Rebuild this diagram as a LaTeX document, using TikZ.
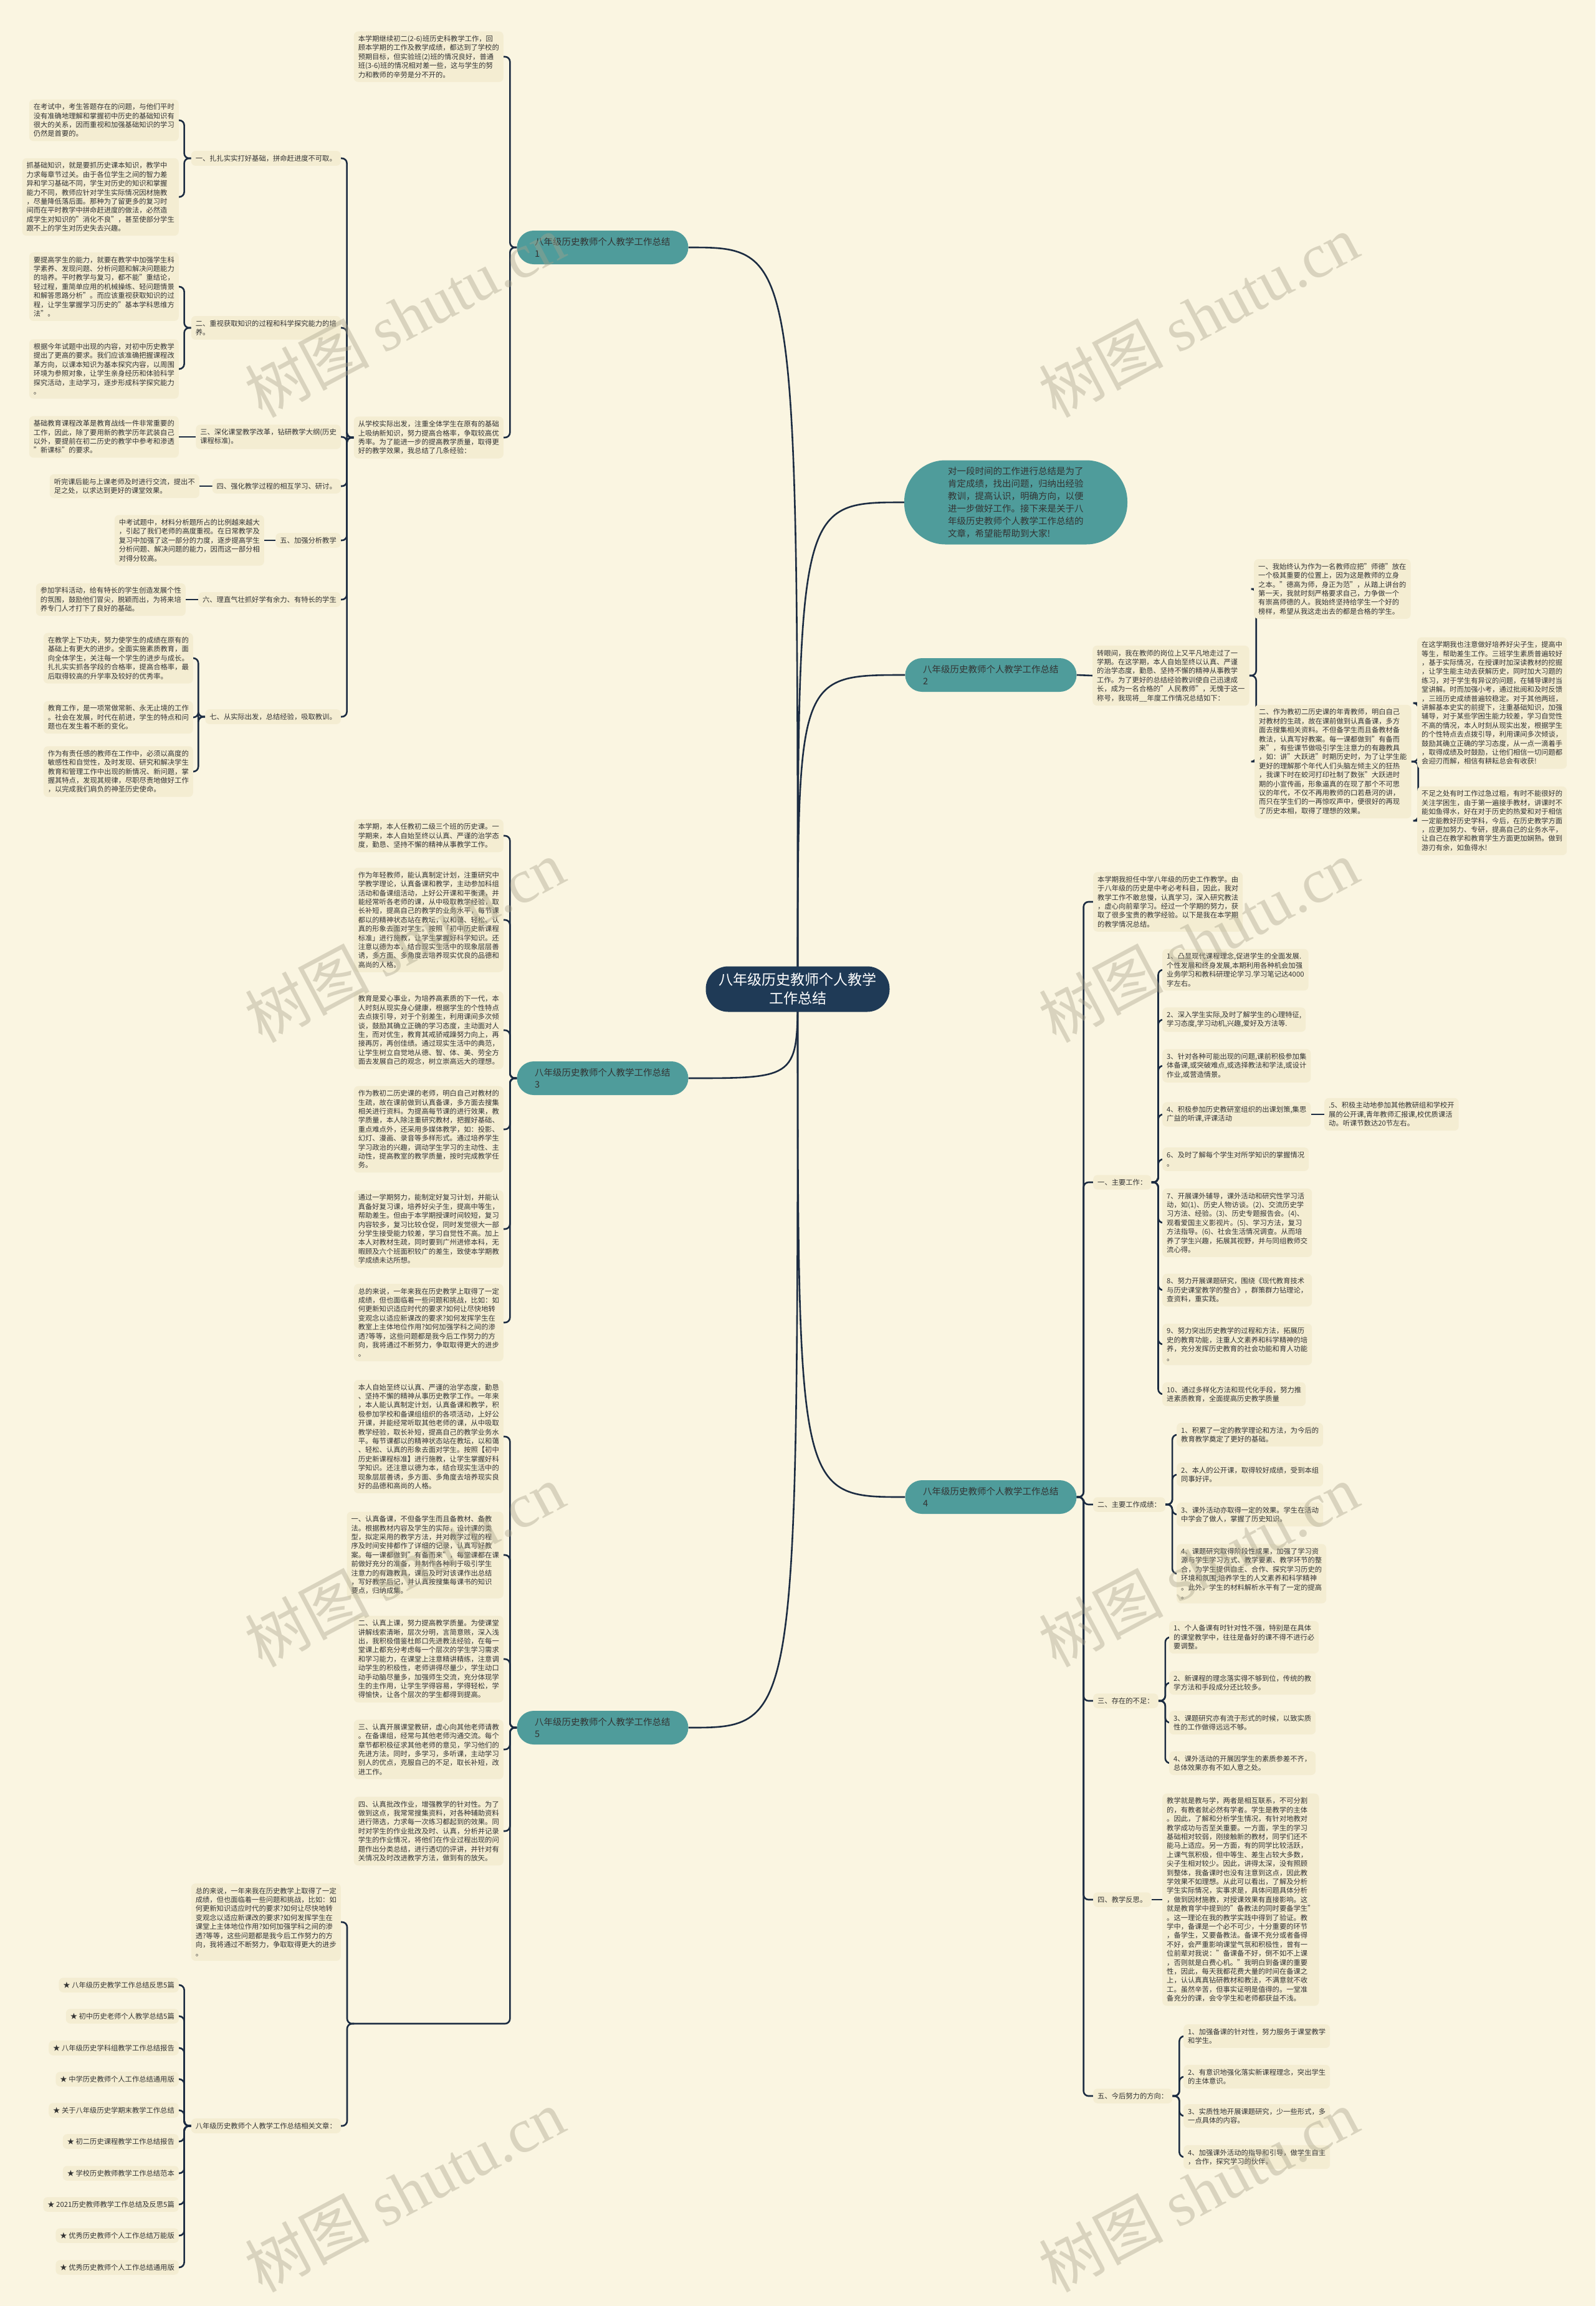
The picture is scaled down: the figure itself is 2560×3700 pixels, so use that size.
\documentclass[tikz,border=0pt]{standalone}
\usepackage{fontspec}
\setmainfont{Noto Sans CJK SC}
\newfontfamily\wmlatin{Liberation Serif}
\usetikzlibrary{backgrounds}

\definecolor{paper}{HTML}{FAF5E1}
\definecolor{boxfill}{HTML}{F4EDD2}
\definecolor{tealfill}{HTML}{4F9C9B}
\definecolor{linecol}{HTML}{1C2C42}
\definecolor{rootfill}{HTML}{1F3A56}
\definecolor{inkcol}{HTML}{333333}
\definecolor{wmcol}{HTML}{A8A28A}

\newcommand\leaffont{\fontsize{11.3pt}{14.4pt}\selectfont}
\newcommand\branchfont{\fontsize{14.5pt}{18.5pt}\selectfont}
\newcommand\bubblefont{\fontsize{14.5pt}{20pt}\selectfont}
\newcommand\rootfont{\fontsize{23pt}{30pt}\selectfont}
\newcommand\wmfont{\fontsize{100pt}{100pt}\selectfont}

\tikzset{
  leaf/.style={fill=boxfill, rounded corners=7pt, inner xsep=7pt, inner ysep=6.5pt, align=left, font=\leaffont, text=inkcol},
  branch/.style={fill=tealfill, rounded corners=27pt, minimum width=275pt, minimum height=54pt, text width=218pt, align=left, font=\branchfont, text=inkcol},
  link/.style={draw=linecol, line width=2.6pt, rounded corners=8pt},
  lbranch/.style={to path={-- ++(-11,0) |- (\tikztotarget)}},
  rbranch/.style={to path={-- ++(11,0) |- (\tikztotarget)}},
  rootlink/.style={draw=linecol, line width=2.6pt},
  wm/.style={rotate=28, text=wmcol, text opacity=0.4, font=\wmfont},
}

\begin{document}
\begin{tikzpicture}[x=1pt,y=-1pt]
\begin{scope}[on background layer]
\fill[paper] (0,0) rectangle (2560,3700);
\end{scope}
\useasboundingbox (0,0) rectangle (2560,3700);

% centre and main branches
\node[fill=rootfill, text=white, rounded corners=36pt, minimum width=295pt, minimum height=73pt, align=center, font=\rootfont] (root) at (1280,1587) {八年级历史教师个人教学\\工作总结};
\node[fill=tealfill, rounded corners=66pt, minimum width=358pt, minimum height=135pt, text width=218pt, align=left, font=\bubblefont, text=inkcol] (intro) at (1630,806) {对一段时间的工作进行总结是为了\\肯定成绩，找出问题，归纳出经验\\教训，提高认识，明确方向，以便\\进一步做好工作。接下来是关于八\\年级历史教师个人教学工作总结的\\文章，希望能帮助到大家!};
\node[branch] (br1) at (967,397) {八年级历史教师个人教学工作总结\\1};
\node[branch] (br2) at (1590,1083) {八年级历史教师个人教学工作总结\\2};
\node[branch] (br3) at (967,1730) {八年级历史教师个人教学工作总结\\3};
\node[branch] (br4) at (1590,2402) {八年级历史教师个人教学工作总结\\4};
\node[branch] (br5) at (967,2772) {八年级历史教师个人教学工作总结\\5};

% branch 1
\node[leaf,anchor=east] (c1) at (808,91) {本学期继续初二(2-6)班历史科教学工作，回\\顾本学期的工作及教学成绩，都达到了学校的\\预期目标，但实验班(2)班的情况良好，普通\\班(3-6)班的情况相对差一些，这与学生的努\\力和教师的辛劳是分不开的。};
\node[leaf,anchor=east] (cs) at (808,702) {从学校实际出发，注重全体学生在原有的基础\\上吸纳新知识，努力提高合格率，争取较高优\\秀率。为了能进一步的提高教学质量，取得更\\好的教学效果，我总结了几条经验：};
\node[leaf,anchor=east] (s1) at (547,254) {一、扎扎实实打好基础，拼命赶进度不可取。};
\node[leaf,anchor=east] (s2) at (547,526) {二、重视获取知识的过程和科学探究能力的培\\养。};
\node[leaf,anchor=east] (s3) at (547,701) {三、深化课堂教学改革，钻研教学大纲(历史\\课程标准)。};
\node[leaf,anchor=east] (s4) at (547,780) {四、强化教学过程的相互学习、研讨。};
\node[leaf,anchor=east] (s5) at (547,867) {五、加强分析教学};
\node[leaf,anchor=east] (s6) at (547,962) {六、理直气壮抓好学有余力、有特长的学生};
\node[leaf,anchor=east] (s7) at (547,1150) {七、从实际出发，总结经验，吸取教训。};
\node[leaf,anchor=east] (t1) at (287,193) {在考试中，考生答题存在的问题，与他们平时\\没有准确地理解和掌握初中历史的基础知识有\\很大的关系，因而重视和加强基础知识的学习\\仍然是首要的。};
\node[leaf,anchor=east] (t2) at (287,316) {抓基础知识，就是要抓历史课本知识，教学中\\力求每章节过关。由于各位学生之间的智力差\\异和学习基础不同，学生对历史的知识和掌握\\能力不同，教师应针对学生实际情况因材施教\\，尽量降低落后面。那种为了留更多的复习时\\间而在平时教学中拼命赶进度的做法，必然造\\成学生对知识的"消化不良"，甚至使部分学生\\跟不上的学生对历史失去兴趣。};
\node[leaf,anchor=east] (t3) at (287,460) {要提高学生的能力，就要在教学中加强学生科\\学素养、发现问题、分析问题和解决问题能力\\的培养。平时教学与复习，都不能"重结论，\\轻过程，重简单应用的机械操练、轻问题情景\\和解答思路分析"。而应该重视获取知识的过\\程，让学生掌握学习历史的"基本学科思维方\\法"。};
\node[leaf,anchor=east] (t4) at (287,592) {根据今年试题中出现的内容，对初中历史教学\\提出了更高的要求。我们应该准确把握课程改\\革方向，以课本知识为基本探究内容，以周围\\环境为参照对象，让学生亲身经历和体验科学\\探究活动，主动学习，逐步形成科学探究能力\\。};
\node[leaf,anchor=east] (t5) at (287,701) {基础教育课程改革是教育战线一件非常重要的\\工作，因此，除了要用新的教学历年武装自己\\以外，要提前在初二历史的教学中参考和渗透\\"新课标"的要求。};
\node[leaf,anchor=east] (t6) at (320,780) {听完课后能与上课老师及时进行交流，提出不\\足之处，以求达到更好的课堂效果。};
\node[leaf,anchor=east] (t7) at (424,867) {中考试题中，材料分析题所占的比例越来越大\\，引起了我们老师的高度重视。在日常教学及\\复习中加强了这一部分的力度，逐步提高学生\\分析问题、解决问题的能力，因而这一部分相\\对得分较高。};
\node[leaf,anchor=east] (t8) at (298,962) {参加学科活动，给有特长的学生创造发展个性\\的氛围，鼓励他们冒尖，脱颖而出，为将来培\\养专门人才打下了良好的基础。};
\node[leaf,anchor=east] (t9) at (310,1056) {在教学上下功夫，努力使学生的成绩在原有的\\基础上有更大的进步。全面实施素质教育，面\\向全体学生，关注每一个学生的进步与成长。\\扎扎实实抓各学段的合格率，提高合格率，最\\后取得较高的升学率及较好的优秀率。};
\node[leaf,anchor=east] (t10) at (310,1151) {教育工作，是一项常做常新、永无止境的工作\\。社会在发展，时代在前进，学生的特点和问\\题也在发生着不断的变化。};
\node[leaf,anchor=east] (t11) at (310,1238) {作为有责任感的教师在工作中，必须以高度的\\敏感性和自觉性，及时发现、研究和解决学生\\教育和管理工作中出现的新情况、新问题，掌\\握其特点，发现其规律，尽职尽责地做好工作\\，以完成我们肩负的神圣历史使命。};

% branch 2
\node[leaf,anchor=west] (d0) at (1753,1084) {转眼间，我在教师的岗位上又平凡地走过了一\\学期。在这学期，本人自始至终以认真、严谨\\的治学态度，勤恳、坚持不懈的精神从事教学\\工作。为了更好的总结经验教训使自己迅速成\\长，成为一名合格的"人民教师"，无愧于这一\\称号，我现将\_\_年度工作情况总结如下：};
\node[leaf,anchor=west] (d1) at (2012,945) {一、我始终认为作为一名教师应把"师德"放在\\一个极其重要的位置上，因为这是教师的立身\\之本。"德高为师，身正为范"，从踏上讲台的\\第一天，我就时刻严格要求自己，力争做一个\\有崇高师德的人。我始终坚持给学生一个好的\\榜样，希望从我这走出去的都是合格的学生。};
\node[leaf,anchor=west] (d2) at (2013,1222) {二、作为教初二历史课的年青教师，明白自己\\对教材的生疏，故在课前做到认真备课，多方\\面去搜集相关资料。不但备学生而且备教材备\\教法，认真写好教案。每一课都做到"有备而\\来"，有些课节做吸引学生注意力的有趣教具\\，如：讲"大跃进"时期历史时，为了让学生能\\更好的理解那个年代人们头脑左倾主义的狂热\\，我课下时在蛟河打印社制了数张"大跃进时\\期的小宣传画，形象逼真的在现了那个不可思\\议的年代，不仅不再用教师的口若悬河的讲，\\而只在学生们的一再惊叹声中，便很好的再现\\了历史本相，取得了理想的效果。};
\node[leaf,anchor=west] (d3) at (2274,1128) {在这学期我也注意做好培养好尖子生，提高中\\等生，帮助差生工作。三班学生素质普遍较好\\，基于实际情况，在授课时加深读教材的挖掘\\，让学生能主动去获解历史，同时加大习题的\\练习，对于学生有异议的问题，在辅导课时当\\堂讲解。时而加强小考，通过批阅和及时反馈\\，三班历史成绩普遍较稳定。对于其他两班，\\讲解基本史实的前提下，注重基础知识，加强\\辅导，对于某些学困生能力较差，学习自觉性\\不高的情况，本人时刻从现实出发，根据学生\\的个性特点去点拨引导，利用课间多次倾谈，\\鼓励其确立正确的学习态度，从一点一滴着手\\，取得成绩及时鼓励，让他们相信一切问题都\\会迎刃而解，相信有耕耘总会有收获!};
\node[leaf,anchor=west] (d4) at (2274,1317) {不足之处有时工作过急过粗，有时不能很好的\\关注学困生，由于第一遍接手教材，讲课时不\\能如鱼得水，好在对于历史的热爱和对于相信\\一定能教好历史学科，今后，在历史教学方面\\，应更加努力、专研，提高自己的业务水平，\\让自己在教学和教育学生方面更加娴熟。做到\\游刃有余，如鱼得水!};

% branch 3
\node[leaf,anchor=east] (e1) at (808,1341) {本学期，本人任教初二级三个班的历史课。一\\学期来，本人自始至终以认真、严谨的治学态\\度，勤恳、坚持不懈的精神从事教学工作。};
\node[leaf,anchor=east] (e2) at (808,1476) {作为年轻教师，能认真制定计划，注重研究中\\学教学理论，认真备课和教学，主动参加科组\\活动和备课组活动，上好公开课和平衡课，并\\能经常听各老师的课，从中吸取教学经验，取\\长补短，提高自己的教学的业务水平，每节课\\都以的精神状态站在教坛，以和蔼、轻松、认\\真的形象去面对学生。按照「初中历史新课程\\标准」进行施教，让学生掌握好科学知识。还\\注意以德为本，结合现实生活中的现象层层善\\诱，多方面、多角度去培养现实优良的品德和\\高尚的人格。};
\node[leaf,anchor=east] (e3) at (808,1653) {教育是爱心事业，为培养高素质的下一代，本\\人时刻从现实身心健康，根据学生的个性特点\\去点拨引导，对于个别差生，利用课间多次倾\\谈，鼓励其确立正确的学习态度，主动面对人\\生，而对优生，教育其戒骄戒躁努力向上，再\\接再厉，再创佳绩。通过现实生活中的典范，\\让学生树立自觉地从德、智、体、美、劳全方\\面去发展自己的观念，树立崇高远大的理想。};
\node[leaf,anchor=east] (e4) at (808,1812) {作为教初二历史课的老师，明白自己对教材的\\生疏，故在课前做到认真备课，多方面去搜集\\相关进行资料。为提高每节课的进行效果，教\\学质量，本人除注重研究教材，把握好基础、\\重点难点外，还采用多媒体教学，如：投影、\\幻灯、漫画、录音等多样形式。通过培养学生\\学习政治的兴趣，调动学生学习的主动性、主\\动性，提高教室的教学质量，按时完成教学任\\务。};
\node[leaf,anchor=east] (e5) at (808,1972) {通过一学期努力，能制定好复习计划，并能认\\真备好复习课，培养好尖子生，提高中等生，\\帮助差生。但由于本学期授课时间较短，复习\\内容较多，复习比较仓促，同时发觉很大一部\\分学生接受能力较差，学习自觉性不高。加上\\本人对教材生疏，同时要到广州进修本科，无\\暇顾及六个班面积较广的差生，致使本学期教\\学成绩未达所想。};
\node[leaf,anchor=east] (e6) at (808,2122) {总的来说，一年来我在历史教学上取得了一定\\成绩，但也面临着一些问题和挑战，比如：如\\何更新知识适应时代的要求?如何让尽快地转\\变观念以适应新课改的要求?如何发挥学生在\\教室上主体地位作用?如何加强学科之间的渗\\透?等等，这些问题都是我今后工作努力的方\\向，我将通过不断努力，争取取得更大的进步\\。};

% branch 4
\node[leaf,anchor=west] (f0) at (1754,1447) {本学期我担任中学八年级的历史工作教学。由\\于八年级的历史是中考必考科目，因此，我对\\教学工作不敢怠慢，认真学习，深入研究教法\\，虚心向前辈学习。经过一个学期的努力，获\\取了很多宝贵的教学经验。以下是我在本学期\\的教学情况总结。};
\node[leaf,anchor=west] (g1) at (1754,1897) {一、主要工作：};
\node[leaf,anchor=west] (g2) at (1754,2414) {二、主要工作成绩：};
\node[leaf,anchor=west] (g3) at (1754,2729) {三、存在的不足：};
\node[leaf,anchor=west] (g4) at (1754,3048) {四、教学反思。};
\node[leaf,anchor=west] (g5) at (1754,3363) {五、今后努力的方向：};
\node[leaf,anchor=west] (h1) at (1865,1556) {1、凸显现代课程理念,促进学生的全面发展.\\个性发展和终身发展,本期利用各种机会加强\\业务学习和教科研理论学习.学习笔记达4000\\字左右。};
\node[leaf,anchor=west] (h2) at (1865,1636) {2、深入学生实际,及时了解学生的心理特征,\\学习态度,学习动机,兴趣,爱好及方法等.};
\node[leaf,anchor=west] (h3) at (1865,1710) {3、针对各种可能出现的问题,课前积极参加集\\体备课,或突破难点,或选择教法和学法,或设计\\作业,或营造情景。};
\node[leaf,anchor=west] (h4) at (1865,1788) {4、积极参加历史教研室组织的出课划策,集思\\广益的听课,评课活动};
\node[leaf,anchor=west] (h5) at (2125,1788) {.5、积极主动地参加其他教研组和学校开\\展的公开课,青年教师汇报课,校优质课活\\动。听课节数达20节左右。};
\node[leaf,anchor=west] (h6) at (1865,1860) {6、及时了解每个学生对所学知识的掌握情况\\。};
\node[leaf,anchor=west] (h7) at (1865,1962) {7、开展课外辅导，课外活动和研究性学习活\\动，如(1)、历史人物访谈。(2)、交流历史学\\习方法、经验。(3)、历史专题报告会。(4)、\\观看爱国主义影视片。(5)、学习方法，复习\\方法指导。(6)、社会生活情况调查。从而培\\养了学生兴趣，拓展其视野，并与同组教师交\\流心得。};
\node[leaf,anchor=west] (h8) at (1865,2070) {8、努力开展课题研究，围绕《现代教育技术\\与历史课堂教学的整合》，群策群力钻理论，\\查资料，重实践。};
\node[leaf,anchor=west] (h9) at (1865,2157) {9、努力突出历史教学的过程和方法，拓展历\\史的教育功能，注重人文素养和科学精神的培\\养，充分发挥历史教育的社会功能和育人功能\\。};
\node[leaf,anchor=west] (h10) at (1865,2237) {10、通过多样化方法和现代化手段，努力推\\进素质教育，全面提高历史教学质量};
\node[leaf,anchor=west] (k1) at (1888,2302) {1、积累了一定的教学理论和方法，为今后的\\教育教学奠定了更好的基础。};
\node[leaf,anchor=west] (k2) at (1888,2366) {2、本人的公开课，取得较好成绩，受到本组\\同事好评。};
\node[leaf,anchor=west] (k3) at (1888,2430) {3、课外活动亦取得一定的效果。学生在活动\\中学会了做人，掌握了历史知识。};
\node[leaf,anchor=west] (k4) at (1888,2525) {4、课题研究取得阶段性成果，加强了学习资\\源与学生学习方式、教学要素、教学环节的整\\合，为学生提供自主、合作、探究学习历史的\\环境和氛围;培养学生的人文素养和科学精神\\。此外，学生的材料解析水平有了一定的提高\\。};
\node[leaf,anchor=west] (m1) at (1876,2627) {1、个人备课有时针对性不强，特别是在具体\\的课堂教学中，往往是备好的课不得不进行必\\要调整。};
\node[leaf,anchor=west] (m2) at (1876,2700) {2、新课程的理念落实得不够到位，传统的教\\学方法和手段成分还比较多。};
\node[leaf,anchor=west] (m3) at (1876,2764) {3、课题研究亦有流于形式的时候，以致实质\\性的工作做得远远不够。};
\node[leaf,anchor=west] (m4) at (1876,2829) {4、课外活动的开展因学生的素质参差不齐，\\总体效果亦有不如人意之处。};
\node[leaf,anchor=west] (n1) at (1865,3048) {教学就是教与学，两者是相互联系，不可分割\\的，有教者就必然有学者。学生是教学的主体\\。因此，了解和分析学生情况，有针对地教对\\教学成功与否至关重要。一方面，学生的学习\\基础相对较弱，刚接触新的教材，同学们还不\\能马上适应。另一方面，有的同学比较活跃，\\上课气氛积极，但中等生、差生占较大多数，\\尖子生相对较少。因此，讲得太深，没有照顾\\到整体，我备课时也没有注意到这点，因此教\\学效果不如理想。从此可以看出，了解及分析\\学生实际情况，实事求是，具体问题具体分析\\，做到因材施教，对授课效果有直接影响。这\\就是教育学中提到的"备教法的同时要备学生"\\。这一理论在我的教学实践中得到了验证。教\\学中，备课是一个必不可少，十分重要的环节\\，备学生，又要备教法。备课不充分或者备得\\不好，会严重影响课堂气氛和积极性，曾有一\\位前辈对我说："备课备不好，倒不如不上课\\，否则就是白费心机。"我明白到备课的重要\\性，因此，每天我都花费大量的时间在备课之\\上，认认真真钻研教材和教法，不满意就不收\\工。虽然辛苦，但事实证明是值得的。一堂准\\备充分的课，会令学生和老师都获益不浅。};
\node[leaf,anchor=west] (p1) at (1899,3267) {1、加强备课的针对性，努力服务于课堂教学\\和学生。};
\node[leaf,anchor=west] (p2) at (1899,3332) {2、有意识地强化落实新课程理念，突出学生\\的主体意识。};
\node[leaf,anchor=west] (p3) at (1899,3395) {3、实质性地开展课题研究，少一些形式，多\\一点具体的内容。};
\node[leaf,anchor=west] (p4) at (1899,3461) {4、加强课外活动的指导和引导，做学生自主\\，合作，探究学习的伙伴。};

% branch 5
\node[leaf,anchor=east] (q1) at (808,2305) {本人自始至终以认真、严谨的治学态度，勤恳\\、坚持不懈的精神从事历史教学工作。一年来\\，本人能认真制定计划，认真备课和教学，积\\极参加学校和备课组组织的各项活动，上好公\\开课，并能经常听取其他老师的课，从中吸取\\教学经验，取长补短，提高自己的教学业务水\\平。每节课都以的精神状态站在教坛，以和蔼\\、轻松、认真的形象去面对学生。按照【初中\\历史新课程标准】进行施教，让学生掌握好科\\学知识。还注意以德为本，结合现实生活中的\\现象层层善诱，多方面、多角度去培养现实良\\好的品德和高尚的人格。};
\node[leaf,anchor=east] (q2) at (808,2495) {一、认真备课，不但备学生而且备教材、备教\\法。根据教材内容及学生的实际，设计课的类\\型，拟定采用的教学方法，并对教学过程的程\\序及时间安排都作了详细的记录，认真写好教\\案。每一课都做到"有备而来"，每堂课都在课\\前做好充分的准备，并制作各种利于吸引学生\\注意力的有趣教具，课后及时对该课作出总结\\，写好教学后记，并认真按搜集每课书的知识\\要点，归纳成集。};
\node[leaf,anchor=east] (q3) at (808,2662) {二、认真上课，努力提高教学质量。为使课堂\\讲解线索清晰，层次分明，言简意赅，深入浅\\出，我积极借鉴杜郎口先进教法经验，在每一\\堂课上都充分考虑每一个层次的学生学习需求\\和学习能力，在课堂上注意精讲精练，注意调\\动学生的积极性，老师讲得尽量少，学生动口\\动手动脑尽量多，加强师生交流，充分体现学\\生的主作用，让学生学得容易，学得轻松，学\\得愉快，让各个层次的学生都得到提高。};
\node[leaf,anchor=east] (q4) at (808,2807) {三、认真开展课堂教研，虚心向其他老师请教\\。在备课组，经常与其他老师沟通交流。每个\\章节都积极征求其他老师的意见，学习他们的\\先进方法。同时，多学习，多听课，主动学习\\别人的优点，克服自己的不足，取长补短，改\\进工作。};
\node[leaf,anchor=east] (q5) at (808,2938) {四、认真批改作业，增强教学的针对性。为了\\做到这点，我常常搜集资料，对各种辅助资料\\进行筛选，力求每一次练习都起到的效果。同\\时对学生的作业批改及时、认真，分析并记录\\学生的作业情况，将他们在作业过程出现的问\\题作出分类总结，进行透切的评讲，并针对有\\关情况及时改进教学方法，做到有的放矢。};
\coordinate (rel) at (568,3247);
\node[leaf,anchor=east] (r1) at (547,3084) {总的来说，一年来我在历史教学上取得了一定\\成绩，但也面临着一些问题和挑战，比如：如\\何更新知识适应时代的要求?如何让尽快地转\\变观念以适应新课改的要求?如何发挥学生在\\课堂上主体地位作用?如何加强学科之间的渗\\透?等等，这些问题都是我今后工作努力的方\\向，我将通过不断努力，争取取得更大的进步\\。};
\node[leaf,anchor=east] (r2) at (547,3411) {八年级历史教师个人教学工作总结相关文章：};
\node[leaf,anchor=east] (a1) at (287,3185) {★ 八年级历史教学工作总结反思5篇};
\node[leaf,anchor=east] (a2) at (287,3235) {★ 初中历史老师个人教学总结5篇};
\node[leaf,anchor=east] (a3) at (287,3286) {★ 八年级历史学科组教学工作总结报告};
\node[leaf,anchor=east] (a4) at (287,3336) {★ 中学历史教师个人工作总结通用版};
\node[leaf,anchor=east] (a5) at (287,3386) {★ 关于八年级历史学期末教学工作总结};
\node[leaf,anchor=east] (a6) at (287,3436) {★ 初二历史课程教学工作总结报告};
\node[leaf,anchor=east] (a7) at (287,3487) {★ 学校历史教师教学工作总结范本};
\node[leaf,anchor=east] (a8) at (287,3537) {★ 2021历史教师教学工作总结及反思5篇};
\node[leaf,anchor=east] (a9) at (287,3587) {★ 优秀历史教师个人工作总结万能版};
\node[leaf,anchor=east] (a10) at (287,3638) {★ 优秀历史教师个人工作总结通用版};

% connectors
\begin{scope}[on background layer]
\draw[rootlink] (root.center) .. controls (root.center |- br1.east) and (root.center |- br1.east) .. (br1.east);
\draw[rootlink] (root.center) .. controls (root.center |- intro.west) and (root.center |- intro.west) .. (intro.west);
\draw[rootlink] (root.center) .. controls (root.center |- br2.west) and (root.center |- br2.west) .. (br2.west);
\draw[rootlink] (root.center) .. controls (root.center |- br3.east) and (root.center |- br3.east) .. (br3.east);
\draw[rootlink] (root.center) .. controls (root.center |- br4.west) and (root.center |- br4.west) .. (br4.west);
\draw[rootlink] (root.center) .. controls (root.center |- br5.east) and (root.center |- br5.east) .. (br5.east);

\draw[link] (br1.west) to[lbranch] (c1.east);
\draw[link] (br1.west) to[lbranch] (cs.east);
\draw[link] (cs.west) to[lbranch] (s1.east);
\draw[link] (cs.west) to[lbranch] (s2.east);
\draw[link] (cs.west) to[lbranch] (s3.east);
\draw[link] (cs.west) to[lbranch] (s4.east);
\draw[link] (cs.west) to[lbranch] (s5.east);
\draw[link] (cs.west) to[lbranch] (s6.east);
\draw[link] (cs.west) to[lbranch] (s7.east);
\draw[link] (s1.west) to[lbranch] (t1.east);
\draw[link] (s1.west) to[lbranch] (t2.east);
\draw[link] (s2.west) to[lbranch] (t3.east);
\draw[link] (s2.west) to[lbranch] (t4.east);
\draw[link] (s3.west) -- (t5.east);
\draw[link] (s4.west) -- (t6.east);
\draw[link] (s5.west) -- (t7.east);
\draw[link] (s6.west) -- (t8.east);
\draw[link] (s7.west) to[lbranch] (t9.east);
\draw[link] (s7.west) to[lbranch] (t10.east);
\draw[link] (s7.west) to[lbranch] (t11.east);

\draw[link] (br2.east) -- (d0.west);
\draw[link] (d0.east) to[rbranch] (d1.west);
\draw[link] (d0.east) to[rbranch] (d2.west);
\draw[link] (d2.east) to[rbranch] (d3.west);
\draw[link] (d2.east) to[rbranch] (d4.west);

\draw[link] (br3.west) to[lbranch] (e1.east);
\draw[link] (br3.west) to[lbranch] (e2.east);
\draw[link] (br3.west) to[lbranch] (e3.east);
\draw[link] (br3.west) to[lbranch] (e4.east);
\draw[link] (br3.west) to[lbranch] (e5.east);
\draw[link] (br3.west) to[lbranch] (e6.east);

\draw[link] (br4.east) to[rbranch] (f0.west);
\draw[link] (br4.east) to[rbranch] (g1.west);
\draw[link] (br4.east) to[rbranch] (g2.west);
\draw[link] (br4.east) to[rbranch] (g3.west);
\draw[link] (br4.east) to[rbranch] (g4.west);
\draw[link] (br4.east) to[rbranch] (g5.west);
\draw[link] (g1.east) to[rbranch] (h1.west);
\draw[link] (g1.east) to[rbranch] (h2.west);
\draw[link] (g1.east) to[rbranch] (h3.west);
\draw[link] (g1.east) to[rbranch] (h4.west);
\draw[link] (g1.east) to[rbranch] (h6.west);
\draw[link] (g1.east) to[rbranch] (h7.west);
\draw[link] (g1.east) to[rbranch] (h8.west);
\draw[link] (g1.east) to[rbranch] (h9.west);
\draw[link] (g1.east) to[rbranch] (h10.west);
\draw[link] (h4.east) -- (h5.west);
\draw[link] (g2.east) to[rbranch] (k1.west);
\draw[link] (g2.east) to[rbranch] (k2.west);
\draw[link] (g2.east) to[rbranch] (k3.west);
\draw[link] (g2.east) to[rbranch] (k4.west);
\draw[link] (g3.east) to[rbranch] (m1.west);
\draw[link] (g3.east) to[rbranch] (m2.west);
\draw[link] (g3.east) to[rbranch] (m3.west);
\draw[link] (g3.east) to[rbranch] (m4.west);
\draw[link] (g4.east) -- (n1.west);
\draw[link] (g5.east) to[rbranch] (p1.west);
\draw[link] (g5.east) to[rbranch] (p2.west);
\draw[link] (g5.east) to[rbranch] (p3.west);
\draw[link] (g5.east) to[rbranch] (p4.west);

\draw[link] (br5.west) to[lbranch] (q1.east);
\draw[link] (br5.west) to[lbranch] (q2.east);
\draw[link] (br5.west) to[lbranch] (q3.east);
\draw[link] (br5.west) to[lbranch] (q4.east);
\draw[link] (br5.west) to[lbranch] (q5.east);
\draw[link] (br5.west) to[lbranch] (rel);
\draw[link] (rel) to[lbranch] (r1.east);
\draw[link] (rel) to[lbranch] (r2.east);
\draw[link] (r2.west) to[lbranch] (a1.east);
\draw[link] (r2.west) to[lbranch] (a2.east);
\draw[link] (r2.west) to[lbranch] (a3.east);
\draw[link] (r2.west) to[lbranch] (a4.east);
\draw[link] (r2.west) to[lbranch] (a5.east);
\draw[link] (r2.west) to[lbranch] (a6.east);
\draw[link] (r2.west) to[lbranch] (a7.east);
\draw[link] (r2.west) to[lbranch] (a8.east);
\draw[link] (r2.west) to[lbranch] (a9.east);
\draw[link] (r2.west) to[lbranch] (a10.east);
\end{scope}

% watermarks
\node[wm] (wm1) at (649,507) {树图 {\wmlatin shutu.cn}};
\node[wm] (wm2) at (1923,507) {树图 {\wmlatin shutu.cn}};
\node[wm] (wm3) at (649,1510) {树图 {\wmlatin shutu.cn}};
\node[wm] (wm4) at (1923,1510) {树图 {\wmlatin shutu.cn}};
\node[wm] (wm5) at (649,2512) {树图 {\wmlatin shutu.cn}};
\node[wm] (wm6) at (1923,2512) {树图 {\wmlatin shutu.cn}};
\node[wm] (wm7) at (649,3515) {树图 {\wmlatin shutu.cn}};
\node[wm] (wm8) at (1923,3515) {树图 {\wmlatin shutu.cn}};
\end{tikzpicture}
\end{document}
